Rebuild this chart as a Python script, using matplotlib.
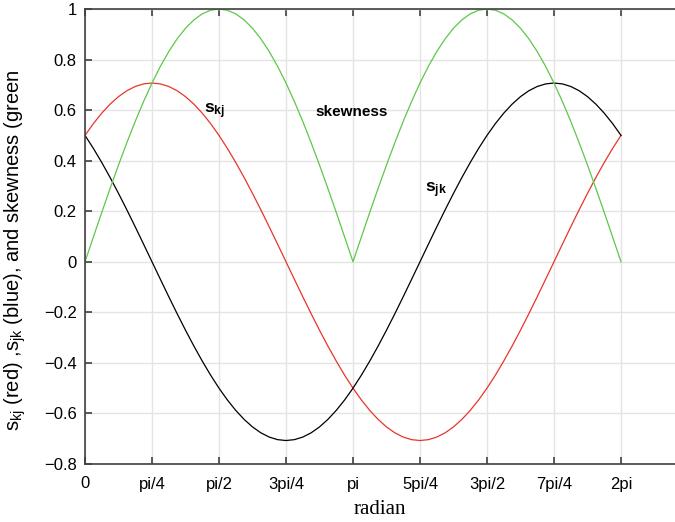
import numpy as np
import matplotlib
matplotlib.use("Agg")
import matplotlib.pyplot as plt

plt.rcParams['font.family'] = ['Liberation Sans', 'DejaVu Sans']
plt.rcParams['mathtext.fontset'] = 'custom'
plt.rcParams['mathtext.rm'] = 'Liberation Sans'
plt.rcParams['mathtext.it'] = 'Liberation Sans'
plt.rcParams['mathtext.bf'] = 'Liberation Sans:bold'

# sampled curves, 65 samples from 0 to 2pi
s_kj = [0.5, 0.5466, 0.5879, 0.6236, 0.6533, 0.6767, 0.6935, 0.7037, 0.7071,
        0.7037, 0.6935, 0.6767, 0.6533, 0.6236, 0.5879, 0.5466, 0.5, 0.4486,
        0.3928, 0.3333, 0.2706, 0.2053, 0.1380, 0.0693, 0.0,
        -0.0693, -0.1380, -0.2053, -0.2706, -0.3333, -0.3928, -0.4486, -0.5,
        -0.5466, -0.5879, -0.6236, -0.6533, -0.6767, -0.6935, -0.7037, -0.7071,
        -0.7037, -0.6935, -0.6767, -0.6533, -0.6236, -0.5879, -0.5466, -0.5,
        -0.4486, -0.3928, -0.3333, -0.2706, -0.2053, -0.1380, -0.0693, 0.0,
        0.0693, 0.1380, 0.2053, 0.2706, 0.3333, 0.3928, 0.4486, 0.5]

s_jk = [0.5, 0.4486, 0.3928, 0.3333, 0.2706, 0.2053, 0.1380, 0.0693, 0.0,
        -0.0693, -0.1380, -0.2053, -0.2706, -0.3333, -0.3928, -0.4486, -0.5,
        -0.5466, -0.5879, -0.6236, -0.6533, -0.6767, -0.6935, -0.7037, -0.7071,
        -0.7037, -0.6935, -0.6767, -0.6533, -0.6236, -0.5879, -0.5466, -0.5,
        -0.4486, -0.3928, -0.3333, -0.2706, -0.2053, -0.1380, -0.0693, 0.0,
        0.0693, 0.1380, 0.2053, 0.2706, 0.3333, 0.3928, 0.4486, 0.5,
        0.5466, 0.5879, 0.6236, 0.6533, 0.6767, 0.6935, 0.7037, 0.7071,
        0.7037, 0.6935, 0.6767, 0.6533, 0.6236, 0.5879, 0.5466, 0.5]

skewness = [0.0, 0.0980, 0.1951, 0.2903, 0.3827, 0.4714, 0.5556, 0.6344, 0.7071,
            0.7730, 0.8315, 0.8819, 0.9239, 0.9569, 0.9808, 0.9952, 1.0,
            0.9952, 0.9808, 0.9569, 0.9239, 0.8819, 0.8315, 0.7730, 0.7071,
            0.6344, 0.5556, 0.4714, 0.3827, 0.2903, 0.1951, 0.0980, 0.0,
            0.0980, 0.1951, 0.2903, 0.3827, 0.4714, 0.5556, 0.6344, 0.7071,
            0.7730, 0.8315, 0.8819, 0.9239, 0.9569, 0.9808, 0.9952, 1.0,
            0.9952, 0.9808, 0.9569, 0.9239, 0.8819, 0.8315, 0.7730, 0.7071,
            0.6344, 0.5556, 0.4714, 0.3827, 0.2903, 0.1951, 0.0980, 0.0]

radian = np.linspace(0, 2 * np.pi, len(s_kj))

tick_labels = ['0', 'pi/4', 'pi/2', '3pi/4', 'pi', '5pi/4', '3pi/2', '7pi/4', '2pi']
tick_pos = np.arange(len(tick_labels)) * np.pi / 4

fig = plt.figure(figsize=(6.75, 5.22), dpi=100)
ax = fig.add_axes([85 / 675, 58 / 522, 1 - 85 / 675, (464 - 9) / 522])

ax.plot(radian, s_kj, color='#e8352a', lw=0.9)
ax.plot(radian, s_jk, color='black', lw=0.9)
ax.plot(radian, skewness, color='#5cc848', lw=0.9)

ax.set_xlim(0, 2 * np.pi * 590 / 536)
ax.set_ylim(-0.8, 1.0)
ax.set_xticks(tick_pos)
ax.set_xticklabels(tick_labels)
ax.set_yticks([-0.8, -0.6, -0.4, -0.2, 0, 0.2, 0.4, 0.6, 0.8, 1])
ax.set_yticklabels(['\u22120.8', '\u22120.6', '\u22120.4', '\u22120.2', '0',
                    '0.2', '0.4', '0.6', '0.8', '1'])

ax.grid(True, color='#e4e4e4', lw=1.0)
ax.set_axisbelow(True)
for side in ('left', 'bottom', 'top'):
    ax.spines[side].set_color('#404040')
    ax.spines[side].set_linewidth(1.2)
ax.spines['right'].set_visible(False)
ax.tick_params(axis='both', direction='in', length=5, width=1.2, color='#404040',
               labelsize=12, top=True, right=False)
ax.tick_params(axis='x', pad=9)
ax.tick_params(axis='y', pad=6)

ax.text(1.40, 0.595, r'$\mathbf{s_{kj}}$', fontsize=12.5, ha='left', va='center')
ax.text(3.13, 0.593, 'skewness', fontsize=11, fontweight='bold', ha='center', va='center')
ax.text(3.99, 0.285, r'$\mathbf{s_{jk}}$', fontsize=12.5, ha='left', va='center')

ax.set_xlabel('radian', family='Liberation Serif', fontsize=15, labelpad=6)
fig.text(15 / 675, 1 - 250 / 522,
         r'$\mathregular{s_{kj}}$ (red) ,$\mathregular{s_{jk}}$ (blue), and skewness (green',
         rotation=90, ha='center', va='center', fontsize=14.5)

fig.savefig('out.png', dpi=100)
